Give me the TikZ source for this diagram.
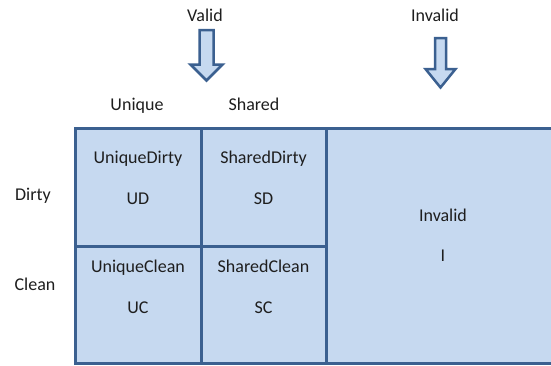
\documentclass[tikz,border=0pt]{standalone}
\usepackage{fontspec}
\setmainfont{Carlito}
\definecolor{cellfill}{HTML}{C6D9F0}
\definecolor{cellline}{HTML}{3B6090}
\definecolor{txt}{HTML}{1E1E1E}
\tikzset{
  cell/.style={draw=cellline, fill=cellfill, line width=3pt, inner sep=0pt},
  lbl/.style={text=txt, font=\fontsize{18}{21}\selectfont, inner sep=0pt, anchor=base},
  downarrow/.style={draw=cellline, fill=cellfill, line width=2.5pt, line join=miter}
}
\begin{document}
\begin{tikzpicture}[x=1pt, y=-1pt]
  \clip (0,0) rectangle (551,365);
  \fill[white] (0,0) rectangle (551,365);

  % headings
  \node[lbl] (valid) at (205,21) {Valid};
  \node[lbl] (invalidh) at (435,21) {Invalid};
  \node[lbl] (unique) at (137,110) {Unique};
  \node[lbl] (shared) at (254,110) {Shared};
  \node[lbl] (dirty) at (33,200) {Dirty};
  \node[lbl] (clean) at (35,290) {Clean};

  % block arrows
  \draw[downarrow] (199.5,30) -- (213.5,30) -- (213.5,64.5) -- (222.5,64.5)
    -- (206.5,80.5) -- (190.5,64.5) -- (199.5,64.5) -- cycle;
  \draw[downarrow] (435,38) -- (446,38) -- (446,69) -- (455.5,69)
    -- (440.5,87.5) -- (425.5,69) -- (435,69) -- cycle;

  % state grid
  \node[cell, minimum width=251pt, minimum height=235pt] (inv) at (451.5,245.5) {};
  \node[cell, minimum width=126pt, minimum height=118pt] (ud) at (138,187) {};
  \node[cell, minimum width=125pt, minimum height=118pt] (sd) at (263.5,187) {};
  \node[cell, minimum width=126pt, minimum height=117pt] (uc) at (138,304.5) {};
  \node[cell, minimum width=125pt, minimum height=117pt] (sc) at (263.5,304.5) {};

  % cell texts
  \node[lbl] (udname) at (138,163) {UniqueDirty};
  \node[lbl] (udtag) at (138,204) {UD};
  \node[lbl] (sdname) at (263.5,163) {SharedDirty};
  \node[lbl] (sdtag) at (263.5,204) {SD};
  \node[lbl] (ucname) at (138,272) {UniqueClean};
  \node[lbl] (uctag) at (138,313) {UC};
  \node[lbl] (scname) at (263.5,272) {SharedClean};
  \node[lbl] (sctag) at (263.5,313) {SC};
  \node[lbl] (invname) at (443,221) {Invalid};
  \node[lbl] (invtag) at (443,261) {I};
\end{tikzpicture}
\end{document}
